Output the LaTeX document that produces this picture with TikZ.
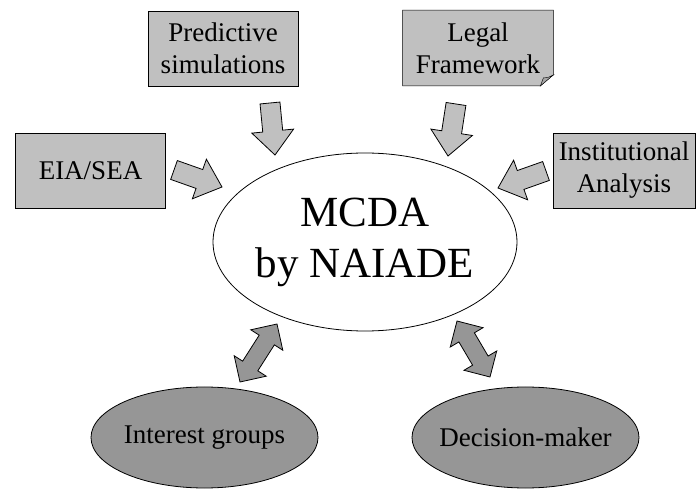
\documentclass[tikz,border=0pt]{standalone}
\usepackage{fontspec}
\setmainfont{Liberation Serif}
\usetikzlibrary{calc,positioning,shapes.geometric,backgrounds}

\definecolor{boxGray}{RGB}{192,192,192}
\definecolor{roleGray}{RGB}{150,150,150}
\definecolor{foldGray}{RGB}{165,165,165}

\begin{document}
\begin{tikzpicture}[x=1pt, y=-1pt, on grid, auto, line width=0.8pt]
  \tikzstyle{input} = [draw, fill=boxGray, rectangle, minimum height=75pt, minimum width=150pt, inner sep=3pt, align=center, font={\fontsize{27}{32}\selectfont}]
  \tikzstyle{role} = [draw, fill=roleGray, ellipse, minimum height=101pt, minimum width=227pt, inner sep=-10pt, font={\fontsize{27}{32}\selectfont}]
  \tikzstyle{core} = [draw, fill=white, ellipse, minimum height=178pt, minimum width=304pt, inner sep=-10pt, align=center, font={\fontsize{43}{51}\selectfont}]
  \tikzstyle{feedArrow} = [draw, fill=boxGray, to path={
      ($(\tikztostart)!10pt!90:(\tikztotarget)$)
      -- ($(\tikztotarget)!24pt!(\tikztostart)!10pt!90:(\tikztotarget)$)
      -- ($(\tikztotarget)!24pt!(\tikztostart)!21pt!90:(\tikztotarget)$)
      -- (\tikztotarget)
      -- ($(\tikztotarget)!24pt!(\tikztostart)!21pt!-90:(\tikztotarget)$)
      -- ($(\tikztotarget)!24pt!(\tikztostart)!10pt!-90:(\tikztotarget)$)
      -- ($(\tikztostart)!10pt!-90:(\tikztotarget)$)
      -- cycle}]
  \tikzstyle{linkArrow} = [draw, fill=roleGray, to path={
      (\tikztostart)
      -- ($(\tikztostart)!19pt!(\tikztotarget)!19pt!90:(\tikztotarget)$)
      -- ($(\tikztostart)!19pt!(\tikztotarget)!9pt!90:(\tikztotarget)$)
      -- ($(\tikztotarget)!19pt!(\tikztostart)!9pt!90:(\tikztotarget)$)
      -- ($(\tikztotarget)!19pt!(\tikztostart)!19pt!90:(\tikztotarget)$)
      -- (\tikztotarget)
      -- ($(\tikztotarget)!19pt!(\tikztostart)!19pt!-90:(\tikztotarget)$)
      -- ($(\tikztotarget)!19pt!(\tikztostart)!9pt!-90:(\tikztotarget)$)
      -- ($(\tikztostart)!19pt!(\tikztotarget)!9pt!-90:(\tikztotarget)$)
      -- ($(\tikztostart)!19pt!(\tikztotarget)!19pt!-90:(\tikztotarget)$)
      -- cycle}]

  \useasboundingbox (0,0) rectangle (697,489);

	\node[core](mcda) at (365,242) {MCDA\\by NAIADE};
	\node[input](pred) [above left=193.5pt and 142pt of mcda] {Predictive\\simulations};
	\node[input, draw=none, fill=none](legal) [above right=194pt and 113pt of mcda] {Legal\\Framework};
	\node[input](eia) [above left=71.5pt and 274.5pt of mcda] {EIA/SEA};
	\node[input, minimum width=142pt](inst) [above right=71.5pt and 259pt of mcda] {Institutional\\Analysis};
	\node[role](ig) [below left=195.5pt and 160.5pt of mcda] {Interest groups};
	\node[role](dm) [below right=195.5pt and 160.5pt of mcda] {Decision-maker};

  % dog-eared sheet behind the legal text
  \begin{scope}[on background layer]
    \draw[fill=boxGray] (legal.north west) -- (legal.north east) -- ([yshift=11pt]legal.south east)
      -- ([xshift=-13pt]legal.south east) -- (legal.south west) -- cycle;
    \draw[fill=foldGray] ([yshift=11pt]legal.south east) .. controls ([xshift=-6pt,yshift=8pt]legal.south east) .. ([xshift=-10pt,yshift=8pt]legal.south east)
      -- ([xshift=-13pt]legal.south east) -- cycle;
  \end{scope}

  % block arrow ends
  \coordinate (predT) at (270,103);
  \coordinate (predH) at (275,155);
  \coordinate (legalT) at (456,104);
  \coordinate (legalH) at (448,156);
  \coordinate (eiaT) at (174,170);
  \coordinate (eiaH) at (222,187);
  \coordinate (instT) at (546,171);
  \coordinate (instH) at (498,188);
  \coordinate (igT) at (277,324);
  \coordinate (igH) at (240,382);
  \coordinate (dmT) at (457,321);
  \coordinate (dmH) at (490,377);

	\path
	(predT) edge[feedArrow] (predH)
	(legalT) edge[feedArrow] (legalH)
	(eiaT) edge[feedArrow] (eiaH)
	(instT) edge[feedArrow] (instH)
	(igT) edge[linkArrow] (igH)
	(dmT) edge[linkArrow] (dmH);
\end{tikzpicture}
\end{document}
